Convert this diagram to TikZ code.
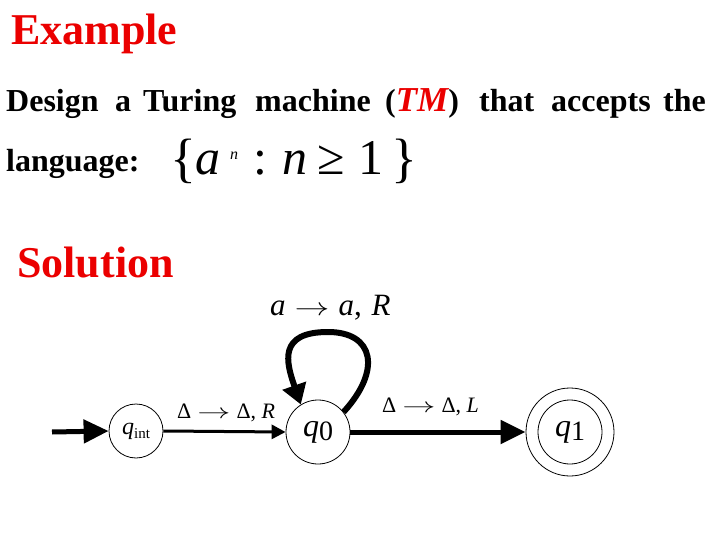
\documentclass[tikz,border=0pt]{standalone}
\usepackage{fontspec}
\setmainfont{Liberation Serif}
\usetikzlibrary{arrows.meta}
\definecolor{slidered}{RGB}{235,0,0}
\newcommand{\fsz}[1]{\fontsize{#1}{#1}\selectfont}
\newcommand{\myarr}[1]{\scalebox{#1}[1]{$\rightarrow$}}
\tikzset{
  word/.style={anchor=base west, inner sep=0pt, font=\fsz{32}\bfseries},
  title/.style={anchor=base west, inner sep=0pt, font=\fsz{44}\bfseries, text=slidered},
  lbl/.style={anchor=base west, inner sep=0pt, font=\fsz{22}},
  setg/.style={anchor=base west, inner sep=0pt, font=\fsz{50}},
  state/.style={circle, draw, line width=0.8pt, inner sep=0pt},
  thickarrow/.style={line width=5pt, -{Triangle[length=25pt,width=23pt]}},
  thinarrow/.style={line width=3pt, -{Triangle[length=14pt,width=14pt]}},
  looparrow/.style={line width=6pt, -{Triangle[length=20pt,width=24pt]}},
}
\begin{document}
\begin{tikzpicture}[x=1pt,y=-1pt]
\useasboundingbox[fill=white] (0,0) rectangle (720,540);
% titles
\node[title] (ex) at (11,45) {Example};
\node[title] (sol) at (17,277) {Solution};
% first line
\node[word] (w1) at (6,112) {Design};
\node[word] (w2) at (115,112) {a};
\node[word] (w3) at (143,112) {Turing};
\node[word] (w4) at (255,112) {machine};
\node[word] (w5) at (385,112) {(\textcolor{slidered}{\fsz{35}\itshape TM})};
\node[word] (w6) at (479,112) {that};
\node[word] (w7) at (551,112) {accepts};
\node[word] (w8) at (663,112) {the};
\node[word] (w9) at (6,172) {language:};
% set
\node[setg, font=\fsz{54}] (s1) at (170,177) {\{};
\node[setg, font=\fsz{50}\itshape] (s2) at (195,175) {a};
\node[setg, font=\fsz{16}\itshape] (s3) at (230,160) {n};
\node[setg] (s4) at (253,175) {:};
\node[setg, font=\fsz{50}\itshape] (s5) at (282,175) {n};
\node[setg] (s6) at (317,175) {≥};
\node[setg] (s7) at (358,175) {1};
\node[setg, font=\fsz{54}] (s8) at (391,177) {\}};
% states
\node[state, minimum size=54pt] (qi) at (136,431) {{\fsz{24}\itshape q}\raisebox{-4pt}{\fsz{15}int}};
\node[state, minimum size=64pt] (q0) at (318,432) {{\fsz{32}\itshape q}\raisebox{-4pt}{\fsz{28}0}};
\node[state, minimum size=88pt] (q1) at (570,432) {{\fsz{32}\itshape q}\raisebox{-4pt}{\fsz{28}1}};
\draw[line width=0.8pt] (q1.center) circle (32);
\coordinate (start) at (52,432);
% transitions
\draw[thickarrow] (start) -- (qi.west);
\draw[thinarrow] (qi.east) -- (q0.west);
\draw[thickarrow] (q0.east) -- (q1.west);
\draw[looparrow] (q0.38) .. controls (382,370) and (374,332) .. (328,332)
  .. controls (278,332) and (286,362) .. (q0.122);
% labels
\node[lbl] (l1) at (177,418) {Δ\hspace{6pt}\myarr{1.6}\hspace{6pt}Δ, {\itshape R}};
\node[lbl] (l2) at (382,412) {Δ\hspace{6pt}\myarr{1.6}\hspace{6pt}Δ, {\itshape L}};
\node[anchor=base west, inner sep=0pt, font=\fsz{31}] (l3) at (270,315) {{\itshape a}\hspace{9pt}\myarr{1.4}\hspace{9pt}{\itshape a}, \hspace{2pt}{\itshape R}};
\end{tikzpicture}
\end{document}
